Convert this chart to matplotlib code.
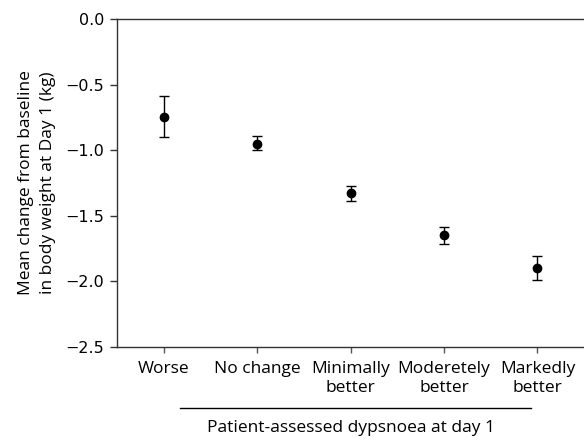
import numpy as np
import matplotlib
matplotlib.use("Agg")
import matplotlib.pyplot as plt
import matplotlib.transforms as mtransforms

# data
categories = ["Worse", "No change", "Minimally\nbetter", "Moderetely\nbetter", "Markedly\nbetter"]
mean_change = [-0.75, -0.95, -1.33, -1.65, -1.90]
err_low = [0.15, 0.05, 0.055, 0.067, 0.09]
err_high = [0.16, 0.06, 0.057, 0.065, 0.09]
y_ticks = [0.0, -0.5, -1.0, -1.5, -2.0, -2.5]

LABEL_FONT = "Open Sans"
TICK_FONT = "DejaVu Sans"
LABEL_SIZE = 12.5

fig = plt.figure(figsize=(5.84, 4.40), dpi=100)
ax = fig.add_axes([0.2003, 0.2114, 0.80, 0.7454])

x = np.arange(1, len(categories) + 1)
ax.errorbar(x, mean_change, yerr=[err_low, err_high], fmt="o", color="black",
            markersize=6, ecolor="black", elinewidth=1.0, capsize=3.8,
            capthick=1.0)

ax.set_xlim(0.5, 5.5)
ax.set_ylim(-2.5, 0.0)
ax.set_yticks(y_ticks)
ax.set_yticklabels([f"{v:.1f}".replace("-", "\u2212") for v in y_ticks],
                   fontfamily=TICK_FONT, fontsize=11.5)
ax.set_xticks(x)
ax.set_xticklabels(categories, fontfamily=LABEL_FONT, fontsize=LABEL_SIZE,
                   linespacing=1.3)

for side in ["top", "left", "bottom"]:
    ax.spines[side].set_color("#333333")
    ax.spines[side].set_linewidth(1.0)
ax.spines["right"].set_visible(False)

ax.tick_params(axis="y", direction="out", length=5, width=1.0, color="#333333", pad=4)
ax.tick_params(axis="x", direction="out", length=4, width=1.0, color="#555555", pad=6)

ax.set_ylabel("Mean change from baseline\nin body weight at Day 1 (kg)",
              fontfamily=LABEL_FONT, fontsize=LABEL_SIZE, linespacing=1.45, labelpad=7)

# bracket line under the category labels, plus group label
trans = mtransforms.blended_transform_factory(ax.transData, ax.transAxes)
ax.plot([1.17, 4.93], [-0.186, -0.186], color="black", linewidth=1.0,
        transform=trans, clip_on=False)
ax.text(3.0, -0.247, "Patient-assessed dypsnoea at day 1", transform=trans,
        ha="center", va="center", fontfamily=LABEL_FONT, fontsize=LABEL_SIZE)

fig.savefig("out.png", dpi=100)
